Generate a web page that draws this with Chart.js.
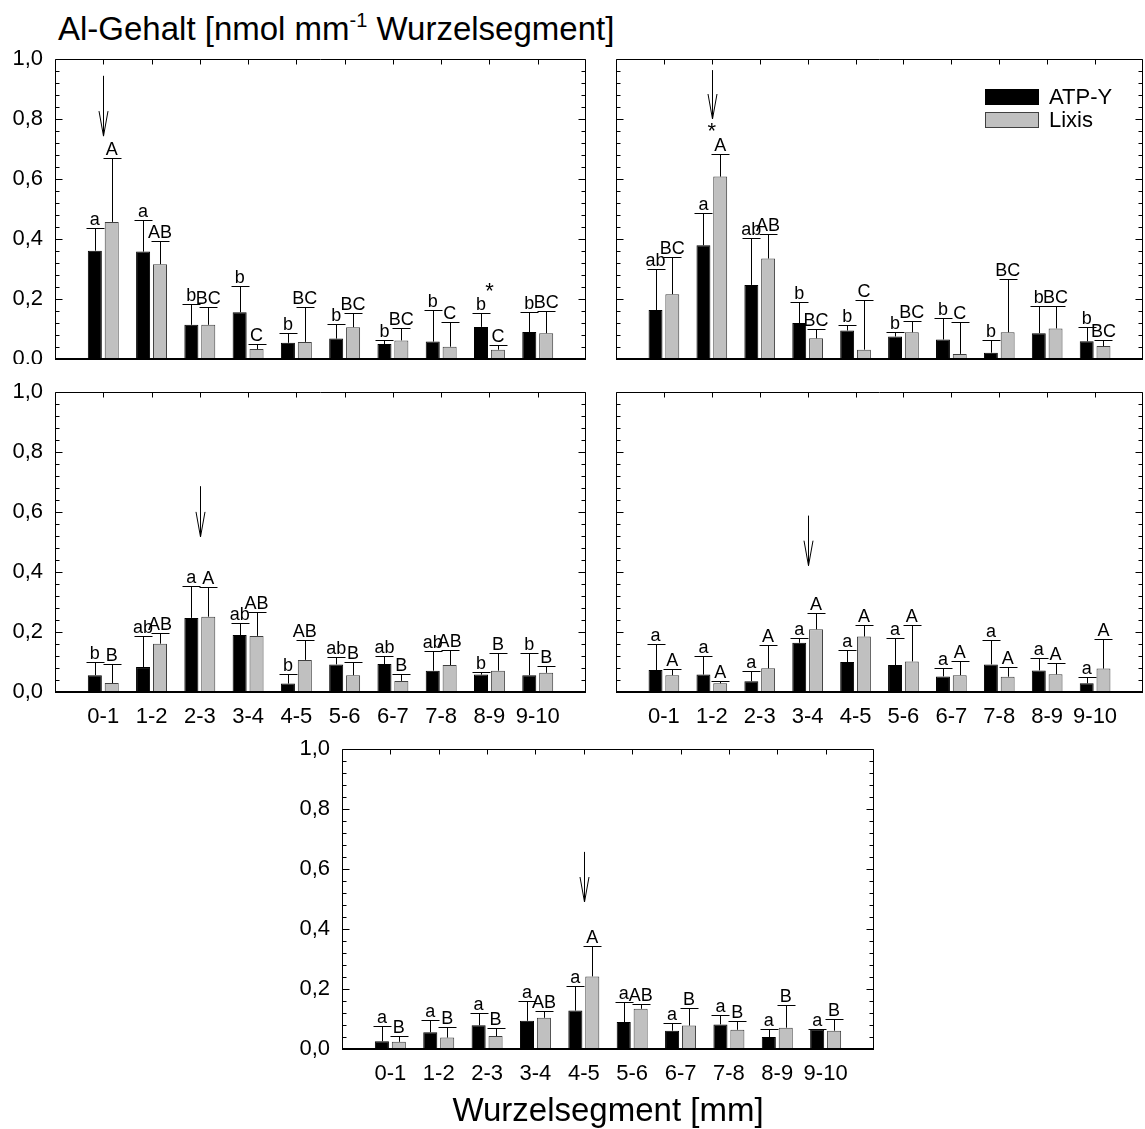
<!DOCTYPE html>
<html lang="de">
<head>
<meta charset="UTF-8">
<title>Al-Gehalt Wurzelsegment</title>
<script src="https://cdn.jsdelivr.net/npm/chart.js"></script>
<style>
  body { margin: 0; width: 1145px; height: 1129px; background: #fff; position: relative; overflow: hidden;
         font-family: "Liberation Sans", Arial, Helvetica, sans-serif; }
  .panel { position: absolute; }
  #titel { position: absolute; left: 58px; top: 12px; font-size: 33px; line-height: 33px; white-space: nowrap; color: #000; }
  #titel sup { font-size: 20px; vertical-align: 13px; line-height: 0; }
</style>
</head>
<body>
<div id="titel">Al-Gehalt [nmol mm<sup>-1</sup> Wurzelsegment]</div>
<div class="panel" id="p1"><canvas id="c1"></canvas></div>
<div class="panel" id="p2"><canvas id="c2"></canvas></div>
<div class="panel" id="p3"><canvas id="c3"></canvas></div>
<div class="panel" id="p4"><canvas id="c4"></canvas></div>
<div class="panel" id="p5"><canvas id="c5"></canvas></div>

<script>
  const segmente = ['0-1', '1-2', '2-3', '3-4', '4-5', '5-6', '6-7', '7-8', '8-9', '9-10'];
  const yTicks = [0, 0.2, 0.4, 0.6, 0.8, 1.0];

  // Panel 1
  const atpP1 = [0.361, 0.358, 0.114, 0.156, 0.054, 0.068, 0.050, 0.058, 0.107, 0.090];
  const atpSdP1 = [0.076, 0.106, 0.070, 0.086, 0.032, 0.049, 0.012, 0.106, 0.046, 0.066];
  const lixP1 = [0.457, 0.316, 0.114, 0.033, 0.057, 0.106, 0.062, 0.041, 0.031, 0.086];
  const lixSdP1 = [0.213, 0.078, 0.061, 0.016, 0.116, 0.047, 0.043, 0.084, 0.015, 0.075];
  const atpBuchstP1 = ['a', 'a', 'b', 'b', 'b', 'b', 'b', 'b', 'b', 'b'];
  const lixBuchstP1 = ['A', 'AB', 'BC', 'C', 'BC', 'BC', 'BC', 'C', 'C', 'BC'];

  // Panel 2
  const atpP2 = [0.163, 0.379, 0.247, 0.120, 0.095, 0.075, 0.065, 0.021, 0.086, 0.059];
  const atpSdP2 = [0.136, 0.107, 0.155, 0.071, 0.017, 0.014, 0.071, 0.041, 0.090, 0.047];
  const lixP2 = [0.216, 0.608, 0.335, 0.069, 0.031, 0.089, 0.017, 0.089, 0.102, 0.043];
  const lixSdP2 = [0.124, 0.077, 0.082, 0.032, 0.165, 0.039, 0.105, 0.177, 0.074, 0.022];
  const atpBuchstP2 = ['ab', 'a', 'ab', 'b', 'b', 'b', 'b', 'b', 'b', 'b'];
  const lixBuchstP2 = ['BC', 'A', 'AB', 'BC', 'C', 'BC', 'C', 'BC', 'BC', 'BC'];

  // Panel 3
  const atpP3 = [0.056, 0.083, 0.247, 0.190, 0.028, 0.092, 0.093, 0.071, 0.058, 0.056];
  const atpSdP3 = [0.044, 0.104, 0.107, 0.040, 0.032, 0.025, 0.027, 0.067, 0.010, 0.074];
  const lixP3 = [0.030, 0.161, 0.251, 0.187, 0.107, 0.056, 0.037, 0.090, 0.071, 0.064];
  const lixSdP3 = [0.064, 0.036, 0.099, 0.080, 0.066, 0.044, 0.023, 0.051, 0.059, 0.023];
  const atpBuchstP3 = ['b', 'ab', 'a', 'ab', 'b', 'ab', 'ab', 'ab', 'b', 'b'];
  const lixBuchstP3 = ['B', 'AB', 'A', 'AB', 'AB', 'B', 'B', 'AB', 'B', 'B'];

  // Panel 4
  const atpP4 = [0.073, 0.058, 0.036, 0.164, 0.100, 0.090, 0.052, 0.092, 0.072, 0.029];
  const atpSdP4 = [0.086, 0.061, 0.034, 0.015, 0.039, 0.089, 0.027, 0.083, 0.040, 0.020];
  const lixP4 = [0.056, 0.029, 0.079, 0.209, 0.185, 0.102, 0.056, 0.051, 0.059, 0.078];
  const lixSdP4 = [0.020, 0.009, 0.078, 0.053, 0.040, 0.120, 0.049, 0.031, 0.039, 0.100];
  const atpBuchstP4 = ['a', 'a', 'a', 'a', 'a', 'a', 'a', 'a', 'a', 'a'];
  const lixBuchstP4 = ['A', 'A', 'A', 'A', 'A', 'A', 'A', 'A', 'A', 'A'];

  // Panel 5
  const atpP5 = [0.026, 0.056, 0.079, 0.094, 0.128, 0.090, 0.061, 0.082, 0.040, 0.064];
  const atpSdP5 = [0.051, 0.042, 0.041, 0.065, 0.081, 0.067, 0.027, 0.032, 0.027, 0.002];
  const lixP5 = [0.024, 0.038, 0.043, 0.104, 0.242, 0.134, 0.078, 0.064, 0.071, 0.061];
  const lixSdP5 = [0.019, 0.035, 0.027, 0.023, 0.102, 0.016, 0.058, 0.028, 0.076, 0.039];
  const atpBuchstP5 = ['a', 'a', 'a', 'a', 'a', 'a', 'a', 'a', 'a', 'a'];
  const lixBuchstP5 = ['B', 'B', 'B', 'AB', 'A', 'AB', 'B', 'B', 'B', 'B'];

  // Pfeile (Segment-Index, Spitze, Ende) je Panel
  const pfeilSegment = [0, 1, 2, 3, 4];
  const pfeilSpitze = [0.743, 0.800, 0.517, 0.421, 0.490];
  const pfeilEnde = [0.944, 0.963, 0.686, 0.588, 0.657];

  // Sterne (Panel 1 und 2)
  const sternSegment = [8, 1];
  const sternWert = [0.242, 0.778];

  const schrift = '"Liberation Sans", Arial, Helvetica, sans-serif';

  const zusatz = {
    id: 'zusatz',
    afterDatasetsDraw(chart) {
      const o = chart.options.plugins.zusatz;
      const { ctx, chartArea: a, scales: { x, y } } = chart;
      ctx.save();
      ctx.strokeStyle = '#000';
      ctx.fillStyle = '#000';
      ctx.lineWidth = 1;

      // Fehlerbalken und Buchstaben
      ctx.font = '18px ' + schrift;
      ctx.textAlign = 'center';
      ctx.textBaseline = 'alphabetic';
      chart.data.datasets.forEach((ds, d) => {
        const meta = chart.getDatasetMeta(d);
        ds.data.forEach((v, i) => {
          if (v === null) return;
          const el = meta.data[i];
          const xp = Math.round(el.x) + 0.5;
          const yTop = Math.round(y.getPixelForValue(v + o.sd[d][i - 1])) + 0.5;
          ctx.beginPath();
          ctx.moveTo(xp, el.y);
          ctx.lineTo(xp, yTop);
          ctx.moveTo(xp - 9, yTop);
          ctx.lineTo(xp + 9, yTop);
          ctx.stroke();
          ctx.fillText(o.buchst[d][i - 1], el.x, yTop - 4);
        });
      });

      // Pfeil
      const ax = Math.round(x.getPixelForValue(o.pfeil[0] + 1)) + 0.5;
      const y1 = y.getPixelForValue(o.pfeil[2]);
      const y2 = y.getPixelForValue(o.pfeil[1]);
      ctx.beginPath();
      ctx.moveTo(ax, y1);
      ctx.lineTo(ax, y2);
      ctx.moveTo(ax - 4.5, y2 - 25);
      ctx.lineTo(ax, y2);
      ctx.lineTo(ax + 4.5, y2 - 25);
      ctx.stroke();

      // Stern
      if (o.stern) {
        ctx.font = '22px ' + schrift;
        ctx.fillText('*', x.getPixelForValue(o.stern[0] + 1), y.getPixelForValue(o.stern[1]) + 12);
      }

      // Legende
      if (o.legende) {
        const lx = a.right - 158;
        chart.data.datasets.forEach((ds, d) => {
          const ly = a.top + 30 + d * 23;
          ctx.fillStyle = ds.backgroundColor;
          ctx.fillRect(lx, ly, 54, 16);
          ctx.strokeStyle = ds.borderColor;
          ctx.strokeRect(lx + 0.5, ly + 0.5, 53, 15);
          ctx.fillStyle = '#000';
          ctx.font = '22px ' + schrift;
          ctx.textAlign = 'left';
          ctx.textBaseline = 'middle';
          ctx.fillText(ds.label, lx + 64, ly + 9);
        });
      }

      // Rahmen und Striche
      ctx.strokeStyle = '#000';
      ctx.lineWidth = 1;
      const l = Math.round(a.left) + 0.5, r = Math.round(a.right) - 0.5, t = Math.round(a.top) + 0.5;
      const b = Math.round(a.bottom);
      ctx.beginPath();
      ctx.moveTo(l, b); ctx.lineTo(l, t); ctx.lineTo(r, t); ctx.lineTo(r, b);
      for (let k = 0; k <= 25; k++) {
        const py = Math.round(y.getPixelForValue(k * 0.04)) + 0.5;
        const len = k % 5 === 0 ? 7 : 4;
        ctx.moveTo(l, py); ctx.lineTo(l + len, py);
        ctx.moveTo(r, py); ctx.lineTo(r - len, py);
      }
      for (let i = 1; i <= segmente.length; i++) {
        const px = Math.round(x.getPixelForValue(i)) + 0.5;
        ctx.moveTo(px, t); ctx.lineTo(px, t + 5);
      }
      ctx.stroke();
      ctx.lineWidth = 2;
      ctx.beginPath();
      ctx.moveTo(a.left, b);
      ctx.lineTo(a.right, b);
      ctx.stroke();
      ctx.restore();
    }
  };

  function zeichnePanel(nr, flaeche, yLab, xLab, xTitel, werte) {
    const yw = yLab ? 55 : 10;
    const xh = xTitel ? 83 : (xLab ? 45 : 0);
    const box = document.getElementById('p' + nr);
    box.style.left = (flaeche[0] - yw) + 'px';
    box.style.top = (flaeche[1] - 15) + 'px';
    box.style.width = (flaeche[2] + yw + 10) + 'px';
    box.style.height = (flaeche[3] + 15 + xh + 5) + 'px';

    new Chart(document.getElementById('c' + nr), {
      type: 'bar',
      data: {
        labels: ['', ...segmente, ''],
        datasets: [
          { label: 'ATP-Y', data: [null, ...werte.atp, null], backgroundColor: '#000000', borderColor: '#000000',
            borderWidth: 1, categoryPercentage: 0.70, barPercentage: 0.83 },
          { label: 'Lixis', data: [null, ...werte.lix, null], backgroundColor: '#c0c0c0', borderColor: '#404040',
            borderWidth: 1, categoryPercentage: 0.70, barPercentage: 0.83 }
        ]
      },
      options: {
        responsive: true,
        maintainAspectRatio: false,
        animation: false,
        events: [],
        layout: { padding: { left: 0, top: 15, right: 10, bottom: 5 } },
        plugins: {
          legend: { display: false },
          tooltip: { enabled: false },
          zusatz: {
            sd: [werte.atpSd, werte.lixSd],
            buchst: [werte.atpB, werte.lixB],
            pfeil: werte.pfeil,
            stern: werte.stern,
            legende: werte.legende
          }
        },
        scales: {
          x: {
            offset: false,
            grid: { display: false, drawTicks: false },
            border: { display: false },
            ticks: { display: xLab, autoSkip: false, maxRotation: 0, minRotation: 0, padding: 12,
                     color: '#000', font: { size: 22, family: schrift } },
            title: { display: xTitel, text: 'Wurzelsegment [mm]', color: '#000',
                     font: { size: 33, family: schrift }, padding: { top: 0, bottom: 0 } },
            afterFit: s => { s.height = xh; s.paddingLeft = 0; s.paddingRight = 0; }
          },
          y: {
            min: 0,
            max: 1,
            grid: { display: false, drawTicks: false },
            border: { display: false },
            afterBuildTicks: s => { s.ticks = yTicks.map(v => ({ value: v })); },
            ticks: { display: yLab, padding: 12, color: '#000', font: { size: 22, family: schrift },
                     callback: v => v.toFixed(1).replace('.', ',') },
            afterFit: s => { s.width = yw; s.paddingTop = 0; s.paddingBottom = 0; }
          }
        }
      },
      plugins: [zusatz]
    });
  }

  const p = (i) => [pfeilSegment[i], pfeilSpitze[i], pfeilEnde[i]];

  zeichnePanel(1, [55, 59, 531, 300], true, false, false,
    { atp: atpP1, atpSd: atpSdP1, lix: lixP1, lixSd: lixSdP1, atpB: atpBuchstP1, lixB: lixBuchstP1,
      pfeil: p(0), stern: [sternSegment[0], sternWert[0]] });
  zeichnePanel(2, [616, 59, 527, 300], false, false, false,
    { atp: atpP2, atpSd: atpSdP2, lix: lixP2, lixSd: lixSdP2, atpB: atpBuchstP2, lixB: lixBuchstP2,
      pfeil: p(1), stern: [sternSegment[1], sternWert[1]], legende: true });
  zeichnePanel(3, [55, 392, 531, 300], true, true, false,
    { atp: atpP3, atpSd: atpSdP3, lix: lixP3, lixSd: lixSdP3, atpB: atpBuchstP3, lixB: lixBuchstP3, pfeil: p(2) });
  zeichnePanel(4, [616, 392, 527, 300], false, true, false,
    { atp: atpP4, atpSd: atpSdP4, lix: lixP4, lixSd: lixSdP4, atpB: atpBuchstP4, lixB: lixBuchstP4, pfeil: p(3) });
  zeichnePanel(5, [342, 749, 532, 300], true, true, true,
    { atp: atpP5, atpSd: atpSdP5, lix: lixP5, lixSd: lixSdP5, atpB: atpBuchstP5, lixB: lixBuchstP5, pfeil: p(4) });
</script>
</body>
</html>
